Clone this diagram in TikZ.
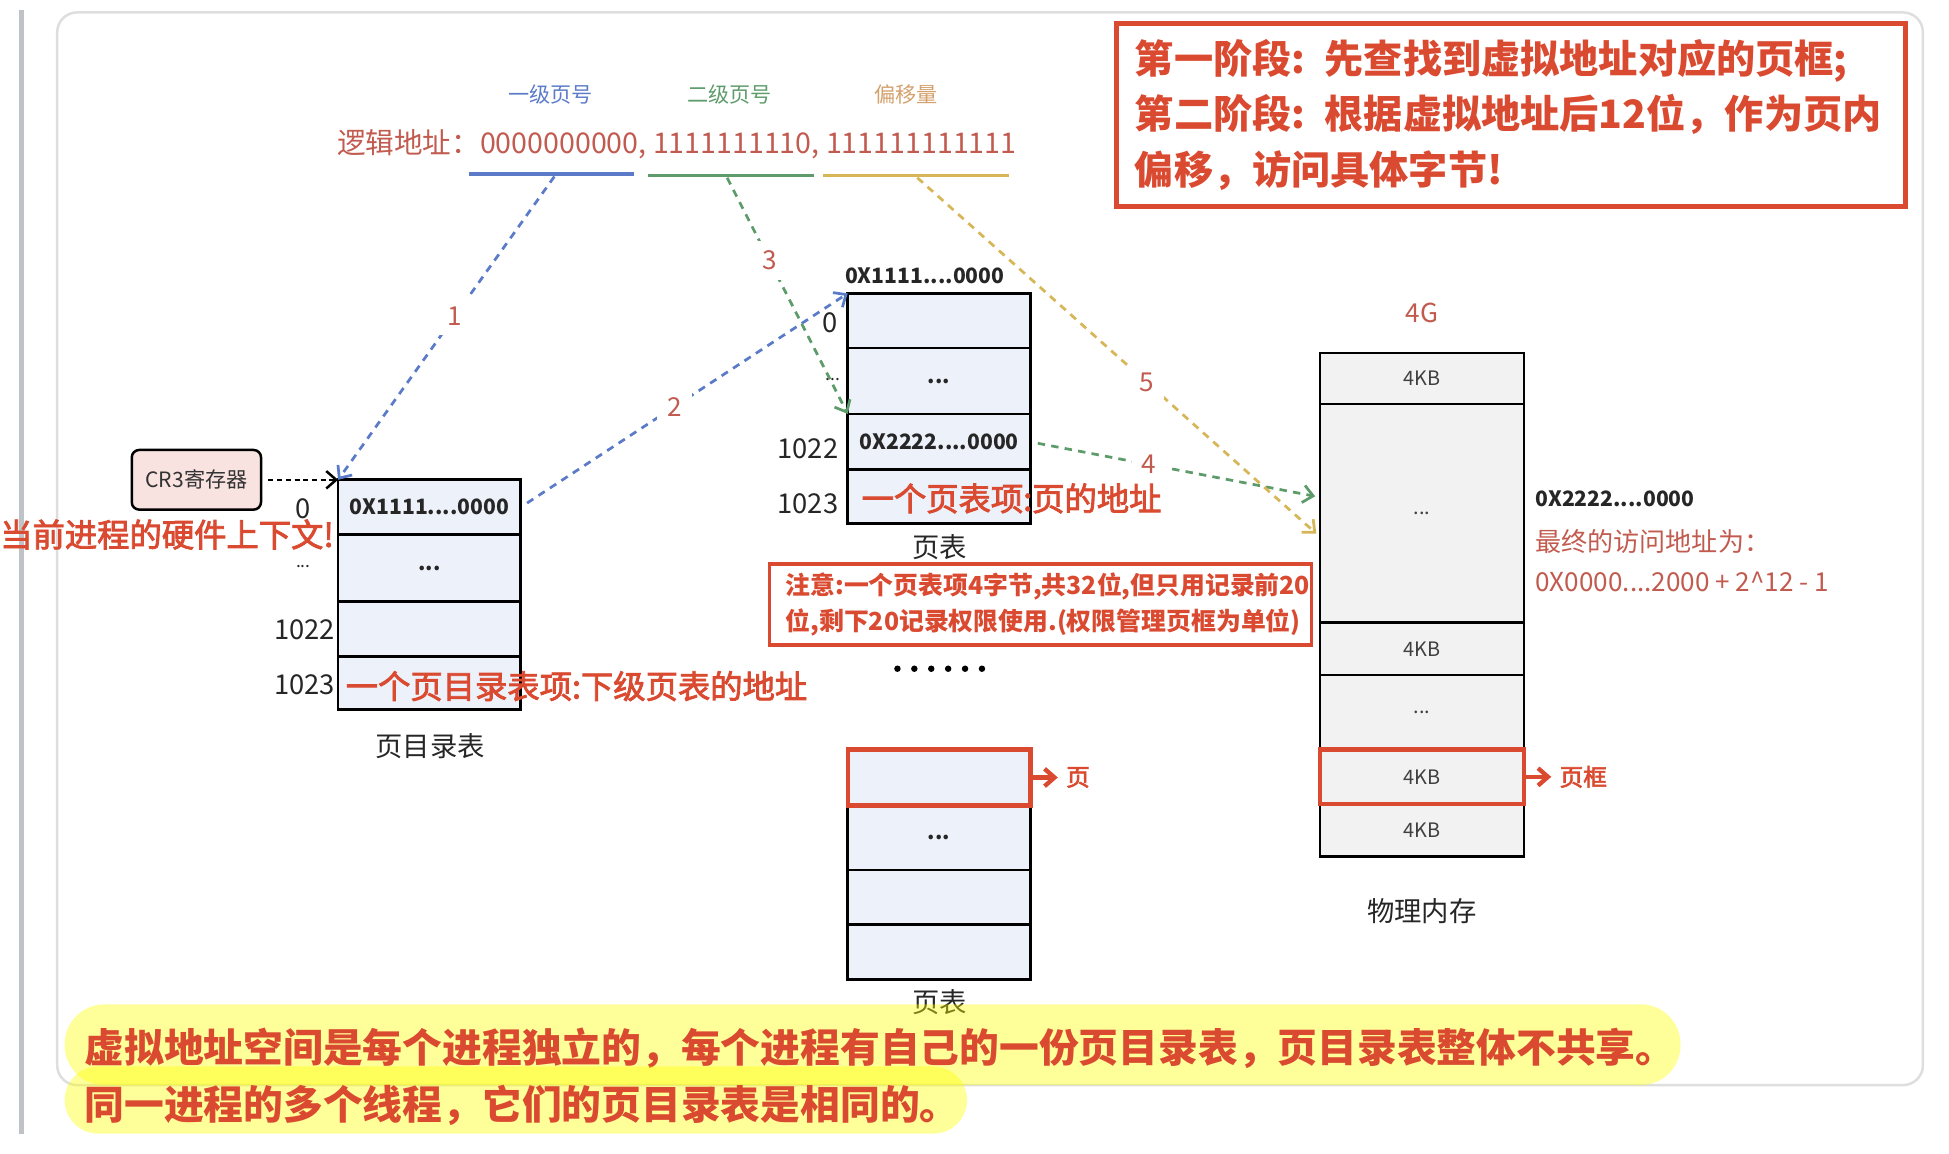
\documentclass[tikz,border=0pt]{standalone}
\usepackage{fontspec}
\setmainfont{Noto Sans CJK SC}
\newfontfamily\medfont[FakeBold=2.5]{Noto Sans CJK SC}
\usetikzlibrary{arrows.meta,positioning}

\definecolor{barGray}{HTML}{BFC2C6}
\definecolor{frameGray}{HTML}{DEDEDE}
\definecolor{lvblue}{HTML}{5B7BC8}
\definecolor{lvgreen}{HTML}{5D9B6B}
\definecolor{lvgold}{HTML}{D6B656}
\definecolor{lvtan}{HTML}{D4A06C}
\definecolor{addrred}{HTML}{C25B4F}
\definecolor{notered}{HTML}{DA4A30}
\definecolor{tblfill}{HTML}{EDF1FA}
\definecolor{memfill}{HTML}{F2F2F2}
\definecolor{regfill}{HTML}{F8E3E1}
\definecolor{hiyellow}{HTML}{FFFF00}

\tikzset{
  cell/.style={draw=black, line width=2.2pt, fill=tblfill, minimum width=147pt,
    inner sep=0pt, outer sep=0pt, text=black!85, font=\fontsize{17}{17}\selectfont\bfseries},
  memcell/.style={cell, fill=memfill, minimum width=164pt, font=\fontsize{16}{16}\selectfont, text=black!75},
  idx/.style={text=black!85, font=\fontsize{22}{22}\selectfont},
  idxdots/.style={text=black!85, font=\fontsize{14}{14}\selectfont},
  caption/.style={text=black!85, font=\fontsize{22}{22}\selectfont},
  steplabel/.style={fill=white, text=addrred, inner sep=8pt, font=\fontsize{21}{21}\selectfont},
  flow/.style={dash pattern=on 6pt off 5pt, line width=2.2pt, ->},
  remark/.style={text=notered, font=\fontsize{26}{26}\selectfont\medfont},
  pointer/.style={text=notered, font=\fontsize{19}{19}\selectfont\medfont},
  hilite/.style={draw=notered, line width=3.5pt},
  redbox/.style={draw=notered, fill=white, anchor=north west, outer sep=0pt, align=left, text=notered},
  pill/.style={fill=hiyellow, fill opacity=0.4, text opacity=1, text=notered, anchor=north west,
    inner xsep=16pt, outer sep=0pt, align=left, font=\fontsize{32}{32}\selectfont\bfseries},
}

\begin{document}
\begin{tikzpicture}[x=1pt, y=-1pt, >={Straight Barb[length=8pt,width=14pt]},
  every node/.append style={inner sep=0pt}]
  \useasboundingbox (0,0) rectangle (1568,928);
  % 背景
  \draw[barGray, line width=4pt] (17,8) -- (17,912);
  \draw[frameGray, line width=2pt, rounded corners=16pt] (46,10) rectangle (1547,873);

  % 逻辑地址
  \node[text=lvblue, font=\fontsize{17}{17}\selectfont] (lv1name) at (443,76) {一级页号};
  \node[text=lvgreen, font=\fontsize{17}{17}\selectfont] (lv2name) at (587,76) {二级页号};
  \node[text=lvtan, font=\fontsize{17}{17}\selectfont] (offname) at (729,76) {偏移量};
  \node[anchor=west, text=addrred, font=\fontsize{23}{23}\selectfont] (laddr) at (271,116)
    {逻辑地址：0000000000, 1111111110, 111111111111};
  \draw[lvblue, line width=2.5pt] (377,140) -- (510,140);
  \draw[lvgreen, line width=2.5pt] (521,141) -- (655,141);
  \draw[lvgold, line width=2.5pt] (662,141) -- (812,141);
  \coordinate (lv1) at (446,142);
  \coordinate (lv2) at (585,143);
  \coordinate (off) at (738,143);

  % CR3寄存器
  \node[draw, line width=2pt, fill=regfill, rounded corners=6pt, minimum width=104pt,
    minimum height=48pt, text=black!80, font=\fontsize{17}{17}\selectfont] (cr3) at (158,386) {CR3寄存器};

  % 页目录表
  \node[cell, minimum height=44pt, anchor=north] (pd0) at (345.5,386) {0X1111....0000};
  \node[cell, minimum height=54pt, below=0pt of pd0] (pd1) {...};
  \node[cell, minimum height=44pt, below=0pt of pd1] (pd2) {};
  \node[cell, minimum height=43pt, below=0pt of pd2] (pd3) {};
  \node[idx] (pdi0) at (244,409) {0};
  \node[idxdots] (pdi1) at (244,456) {...};
  \node[idx] (pdi2) at (245,507) {1022};
  \node[idx] (pdi3) at (245,551) {1023};
  \node[caption] (pdcap) at (346,600) {页目录表};

  % 页表
  \node[cell, minimum height=44pt, anchor=north] (pt0) at (755.5,236) {};
  \node[cell, minimum height=53pt, below=0pt of pt0] (pt1) {...};
  \node[cell, minimum height=45pt, below=0pt of pt1] (pt2) {0X2222....0000};
  \node[cell, minimum height=43pt, below=0pt of pt2] (pt3) {};
  \node[font=\fontsize{17}{17}\selectfont\bfseries, text=black!85] (pthead) at (744,222) {0X1111....0000};
  \node[idx] (pti0) at (668,260) {0};
  \node[idxdots] (pti1) at (670,305) {...};
  \node[idx] (pti2) at (650,361) {1022};
  \node[idx] (pti3) at (650,405) {1023};
  \node[caption] (ptcap) at (756,440) {页表};

  % 另一个页表
  \node[cell, minimum height=45pt, anchor=north] (pq0) at (755.5,603) {};
  \node[cell, minimum height=52pt, below=0pt of pq0] (pq1) {...};
  \node[cell, minimum height=44pt, below=0pt of pq1] (pq2) {};
  \node[cell, minimum height=44pt, below=0pt of pq2] (pq3) {};
  \node[caption] (pqcap) at (756,806) {页表};
  \draw[hilite] (pq0.north west) rectangle (pq0.south east);
  \draw[hilite, ->] (pq0.east) -- ++(22,0) node[pointer, right=5pt] (pagelbl) {页};
  \foreach \i in {0,...,5} \fill (722+13.6*\i,538) circle (2.6pt);

  % 物理内存
  \node[memcell, minimum height=41pt, anchor=north] (pm0) at (1144,284) {4KB};
  \node[memcell, minimum height=176pt, below=0pt of pm0] (pm1) {...};
  \node[memcell, minimum height=42pt, below=0pt of pm1] (pm2) {4KB};
  \node[memcell, minimum height=60pt, below=0pt of pm2] (pm3) {...};
  \node[memcell, minimum height=44pt, below=0pt of pm3] (pm4) {4KB};
  \node[memcell, minimum height=42pt, below=0pt of pm4] (pm5) {4KB};
  \draw[hilite] (pm4.north west) rectangle (pm4.south east);
  \draw[hilite, ->] (pm4.east) -- ++(22,0) node[pointer, right=5pt] (framelbl) {页框};
  \node[text=addrred, font=\fontsize{21}{21}\selectfont] (memtop) at (1144,252) {4G};
  \node[caption] (memcap) at (1144,733) {物理内存};
  \node[anchor=west, text=black!85, font=\fontsize{17}{17}\selectfont\bfseries] (frameaddr) at (1235,401) {0X2222....0000};
  \node[anchor=west, text=addrred, font=\fontsize{21}{21}\selectfont] (finaladdr) at (1235,436) {最终的访问地址为：};
  \node[anchor=west, text=addrred, font=\fontsize{21}{21}\selectfont] (finalcalc) at (1235,468) {0X0000....2000 + 2\textasciicircum12 - 1};

  % 查找过程
  \draw[dash pattern=on 4pt off 3pt, line width=2pt, ->, shorten <=5pt] (cr3.east) -- (pd0.north west);
  \draw[flow, lvblue] (lv1) -- (pd0.north west) node[steplabel, pos=0.46] (s1) {1};
  \draw[flow, lvblue, shorten <=6pt] (pd0.east) -- (pt0.north west) node[steplabel, pos=0.47] (s2) {2};
  \draw[flow, lvgreen] (lv2) -- (pt2.north west) node[steplabel, pos=0.35] (s3) {3};
  \draw[flow, lvgreen, shorten <=6pt, shorten >=4pt] (pt2.east) -- ([yshift=13pt]pm1.west) node[steplabel, pos=0.41] (s4) {4};
  \draw[flow, lvgold, shorten >=4pt] (off) -- ([yshift=-19pt]pm1.west) node[steplabel, pos=0.57] (s5) {5};

  % 说明文字
  \node[remark, anchor=west] (ctx) at (0,430) {当前进程的硬件上下文!};
  \node[remark, anchor=west] (pdenote) at (278,552) {一个页目录表项:下级页表的地址};
  \node[remark, anchor=west] (ptenote) at (693,401) {一个页表项:页的地址};
  \node[redbox, line width=3pt, text width=410pt, inner xsep=13pt, minimum height=65pt,
    font=\fontsize{20}{29}\selectfont\bfseries] (note) at (619,454)
    {注意:一个页表项4字节,共32位,但只用记录前20\\位,剩下20记录权限使用.(权限管理页框为单位)};
  \node[redbox, line width=4pt, text width=605pt, inner xsep=15pt, minimum height=147pt,
    font=\fontsize{31.5}{45}\selectfont\bfseries] (stage) at (898,19)
    {第一阶段: 先查找到虚拟地址对应的页框;\\第二阶段: 根据虚拟地址后12位，作为页内\\偏移，访问具体字节!};

  % 黄色标注
  \node[pill, minimum height=65pt, text width=1268pt, rounded corners=32pt] (share) at (52,808)
    {\raisebox{-3pt}[\height][\depth]{虚拟地址空间是每个进程独立的，每个进程有自己的一份页目录表，页目录表整体不共享。}};
  \node[pill, minimum height=54pt, text width=694pt, rounded corners=27pt] (thread) at (52,858)
    {\raisebox{-4pt}[\height][\depth]{同一进程的多个线程，它们的页目录表是相同的。}};
\end{tikzpicture}
\end{document}
